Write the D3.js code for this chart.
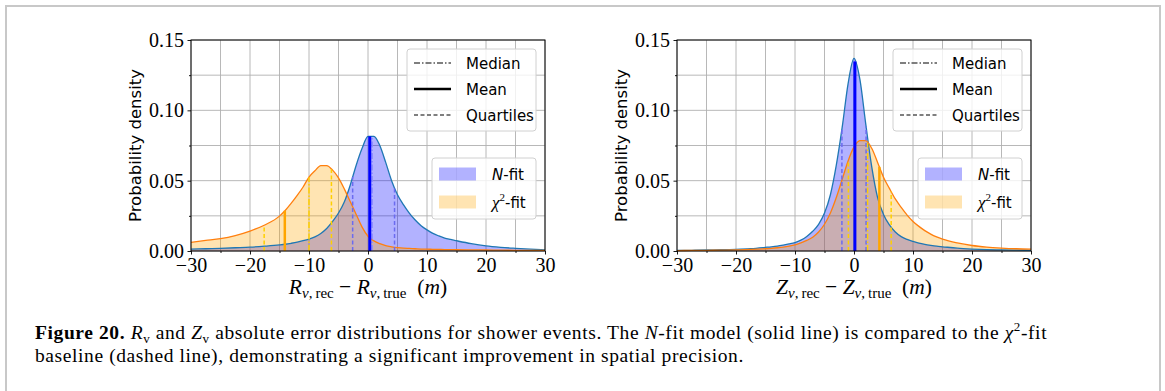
<!DOCTYPE html>
<html>
<head>
<meta charset="utf-8">
<script src="https://cdn.jsdelivr.net/npm/d3@7"></script>
<style>
  body { margin: 0; background: #fff; }
  svg { display: block; }
  .tick text { font-family: "Liberation Serif", serif; font-size: 20px; fill: #000; }
  .sans { font-family: "DejaVu Sans", sans-serif; }
  .serif { font-family: "Liberation Serif", serif; }
</style>
</head>
<body>
<svg id="fig" width="1165" height="391"></svg>
<script>
// x sample points (m), shared by all four curves
var xs = [-30, -27.5, -25, -22.5, -20, -17.5,
  -15, -14, -13, -12, -11, -10, -9, -8, -7, -6, -5, -4, -3, -2, -1,
  0, 1, 2, 3, 4, 5, 6, 7, 8, 9, 10, 11, 12, 13, 14, 15,
  17.5, 20, 22.5, 25, 27.5, 30];

// R_v panel densities
var rNfit = [0.0013, 0.0016, 0.0019, 0.0023, 0.0027, 0.0034,
  0.0043, 0.0048, 0.0055, 0.0063, 0.0073, 0.0085, 0.0101, 0.0125, 0.016, 0.021, 0.027, 0.035, 0.047, 0.061, 0.073,
  0.0815, 0.0815, 0.075, 0.063, 0.050, 0.040, 0.033, 0.027, 0.022, 0.018, 0.015, 0.0125, 0.0107, 0.0092, 0.0082, 0.0073,
  0.0052, 0.0036, 0.0026, 0.0019, 0.0013, 0.0008];
var rChi2 = [0.0062, 0.0075, 0.0088, 0.011, 0.0142, 0.0185,
  0.0248, 0.029, 0.034, 0.0395, 0.0455, 0.0525, 0.057, 0.0607, 0.0607, 0.0575, 0.052, 0.044, 0.035, 0.026, 0.017,
  0.0105, 0.0072, 0.0052, 0.0038, 0.003, 0.0024, 0.002, 0.0018, 0.0016, 0.0014, 0.0013, 0.0012, 0.0011, 0.001, 0.001, 0.0009,
  0.0008, 0.0007, 0.0006, 0.0005, 0.0004, 0.0004];

// Z_v panel densities
var zNfit = [0.0004, 0.0005, 0.0007, 0.0009, 0.0012, 0.0017,
  0.0026, 0.003, 0.0035, 0.0042, 0.005, 0.006, 0.0077, 0.0103, 0.014, 0.019, 0.027, 0.040, 0.061, 0.088, 0.119,
  0.137, 0.122, 0.090, 0.060, 0.038, 0.026, 0.0185, 0.0135, 0.0102, 0.0082, 0.0068, 0.0056, 0.0047, 0.004, 0.0034, 0.003,
  0.002, 0.0014, 0.001, 0.0008, 0.0006, 0.0005];
var zChi2 = [0.0003, 0.0004, 0.0005, 0.0006, 0.0008, 0.0011,
  0.0016, 0.0019, 0.0023, 0.0028, 0.0035, 0.0044, 0.0057, 0.0075, 0.0098, 0.0135, 0.019, 0.027, 0.038, 0.051, 0.064,
  0.074, 0.0785, 0.0785, 0.073, 0.063, 0.0525, 0.0445, 0.037, 0.031, 0.0255, 0.021, 0.0175, 0.0145, 0.012, 0.01, 0.0084,
  0.0057, 0.0039, 0.0028, 0.0021, 0.0016, 0.0013];

// summary statistics: mean, median, first quartile, third quartile
var rNfitStats = [0.3, 0.7, -2.6, 4.5];
var rChi2Stats = [-14.1, -10.0, -17.6, -6.2];
var zNfitStats = [0.15, 0.1, -2.05, 2.05];
var zChi2Stats = [4.3, 2.3, -0.95, 6.3];

var xMajorTicks = [-30, -20, -10, 0, 10, 20, 30];
var xMinorTicks = [-25, -15, -5, 5, 15, 25];
var yMajorTicks = [0, 0.05, 0.10, 0.15];
var yMinorTicks = [0.025, 0.075, 0.125];
var lineLegendLabels = ["Median", "Mean", "Quartiles"];

var svg = d3.select("#fig");
var plotTop = 40, plotBottom = 251;

// outer frame
svg.append("rect").attr("x", 6).attr("y", 6).attr("width", 1154).attr("height", 420)
  .attr("fill", "none").attr("stroke", "#c8c8c8").attr("stroke-width", 2);

function valueAt(arr, xv) {
  var i = d3.bisectLeft(xs, xv);
  if (i <= 0) return arr[0];
  if (i >= xs.length) return arr[arr.length - 1];
  var t = (xv - xs[i - 1]) / (xs[i] - xs[i - 1]);
  return arr[i - 1] + t * (arr[i] - arr[i - 1]);
}

function fmtX(d) { return d < 0 ? "\u2212" + Math.abs(d) : String(d); }

function drawPanel(p) {
  var x = d3.scaleLinear().domain([-30, 30]).range([p.left, p.right]);
  var y = d3.scaleLinear().domain([0, 0.15]).range([plotBottom, plotTop]);
  var g = svg.append("g");

  // grid
  g.selectAll("line.vg").data(xMajorTicks.concat(xMinorTicks)).enter().append("line")
    .attr("class", "vg")
    .attr("x1", function(d) { return x(d); }).attr("x2", function(d) { return x(d); })
    .attr("y1", plotTop).attr("y2", plotBottom)
    .attr("stroke", "#b0b0b0").attr("stroke-width", 0.9);
  g.selectAll("line.hg").data(yMajorTicks.concat(yMinorTicks)).enter().append("line")
    .attr("class", "hg")
    .attr("x1", p.left).attr("x2", p.right)
    .attr("y1", function(d) { return y(d); }).attr("y2", function(d) { return y(d); })
    .attr("stroke", "#b0b0b0").attr("stroke-width", 0.9);

  var area = d3.area()
    .x(function(d, i) { return x(xs[i]); })
    .y0(y(0))
    .y1(function(d) { return y(d); })
    .curve(d3.curveMonotoneX);
  var line = d3.line()
    .x(function(d, i) { return x(xs[i]); })
    .y(function(d) { return y(d); })
    .curve(d3.curveMonotoneX);

  g.append("path").datum(p.nfit).attr("d", area).attr("fill", "rgba(0,0,255,0.3)");
  g.append("path").datum(p.chi2).attr("d", area).attr("fill", "rgba(255,165,0,0.3)");
  g.append("path").datum(p.nfit).attr("d", line).attr("fill", "none").attr("stroke", "#1f77b4").attr("stroke-width", 1.3);
  g.append("path").datum(p.chi2).attr("d", line).attr("fill", "none").attr("stroke", "#ff7f0e").attr("stroke-width", 1.3);

  // stat lines
  function statLines(stats, arr, c) {
    var specs = [
      {v: stats[1], color: c.median, w: 1.5, dash: "6,2,1.5,2"},
      {v: stats[2], color: c.quart, w: 1.5, dash: "4,2.5"},
      {v: stats[3], color: c.quart, w: 1.5, dash: "4,2.5"},
      {v: stats[0], color: c.mean, w: c.meanW, dash: null}
    ];
    specs.forEach(function(s) {
      g.append("line")
        .attr("x1", x(s.v)).attr("x2", x(s.v))
        .attr("y1", y(0)).attr("y2", y(valueAt(arr, s.v)))
        .attr("stroke", s.color).attr("stroke-width", s.w)
        .attr("stroke-dasharray", s.dash);
    });
  }
  statLines(p.nStats, p.nfit, {median: "#8c8cff", quart: "#6b6bf0", mean: "#0000ff", meanW: 3});
  statLines(p.cStats, p.chi2, {median: "#ffd000", quart: "#ffd000", mean: "#ffa500", meanW: 2.5});

  // axes
  var xAxis = d3.axisBottom(x).tickValues(xMajorTicks).tickSize(3.5).tickSizeOuter(0).tickPadding(3.5).tickFormat(fmtX);
  var xMinor = d3.axisBottom(x).tickValues(xMinorTicks).tickSize(2).tickSizeOuter(0).tickFormat("");
  var yAxis = d3.axisLeft(y).tickValues(yMajorTicks).tickSize(3.5).tickSizeOuter(0).tickPadding(3.5).tickFormat(d3.format(".2f"));
  var yMinor = d3.axisLeft(y).tickValues(yMinorTicks).tickSize(2).tickSizeOuter(0).tickFormat("");
  [[xAxis, "translate(0," + plotBottom + ")"], [xMinor, "translate(0," + plotBottom + ")"],
   [yAxis, "translate(" + p.left + ",0)"], [yMinor, "translate(" + p.left + ",0)"]].forEach(function(a) {
    var ag = g.append("g").attr("transform", a[1]).call(a[0]);
    ag.select(".domain").remove();
    ag.selectAll(".tick line").attr("stroke", "#000").attr("stroke-width", 0.9);
  });
  g.append("rect").attr("x", p.left).attr("y", plotTop)
    .attr("width", p.right - p.left).attr("height", plotBottom - plotTop)
    .attr("fill", "none").attr("stroke", "#000").attr("stroke-width", 1);

  // y label
  g.append("text").attr("class", "sans")
    .attr("transform", "translate(" + (p.left - 50) + "," + ((plotTop + plotBottom) / 2) + ") rotate(-90)")
    .attr("text-anchor", "middle").attr("font-size", 16.5)
    .text("Probability density");

  // x label
  var xl = g.append("text").attr("class", "serif")
    .attr("x", (p.left + p.right) / 2).attr("y", 294)
    .attr("text-anchor", "middle").attr("font-size", 21.5);
  function sym(sub) {
    xl.append("tspan").attr("font-style", "italic").text(p.sym);
    xl.append("tspan").attr("font-size", 15).attr("dy", 4).attr("font-style", "italic").text("v");
    xl.append("tspan").attr("font-size", 15).text(",\u2009" + sub);
  }
  sym("rec");
  xl.append("tspan").attr("dy", -4).text(" \u2212 ");
  sym("true");
  xl.append("tspan").attr("dy", -4).text("\u2002(");
  xl.append("tspan").attr("font-style", "italic").text("m");
  xl.append("tspan").text(")");

  // line-style legend
  var lx = p.right - 138, ly = 49;
  g.append("rect").attr("x", lx).attr("y", ly).attr("width", 129).attr("height", 82).attr("rx", 3)
    .attr("fill", "rgba(255,255,255,0.8)").attr("stroke", "#d0d0d0");
  var dashes = ["6,2,1.5,2", null, "4,2.5"];
  var widths = [1.2, 2.4, 1.2];
  lineLegendLabels.forEach(function(lab, i) {
    var ry = ly + 14 + i * 26;
    g.append("line").attr("x1", lx + 7).attr("x2", lx + 44).attr("y1", ry).attr("y2", ry)
      .attr("stroke", "#000").attr("stroke-width", widths[i]).attr("stroke-dasharray", dashes[i]);
    g.append("text").attr("class", "sans").attr("x", lx + 59).attr("y", ry + 5.5)
      .attr("font-size", 15).text(lab);
  });

  // fill legend
  var fx = p.right - 113, fy = 158;
  g.append("rect").attr("x", fx).attr("y", fy).attr("width", 104).attr("height", 61).attr("rx", 3)
    .attr("fill", "rgba(255,255,255,0.8)").attr("stroke", "#d0d0d0");
  g.append("rect").attr("x", fx + 7).attr("y", fy + 9.5).attr("width", 37).attr("height", 13)
    .attr("fill", "rgba(0,0,255,0.3)");
  g.append("rect").attr("x", fx + 7).attr("y", fy + 37.5).attr("width", 37).attr("height", 13)
    .attr("fill", "rgba(255,165,0,0.3)");
  var t1 = g.append("text").attr("class", "sans").attr("x", fx + 60).attr("y", fy + 21.5).attr("font-size", 15);
  t1.append("tspan").attr("font-style", "italic").text("N");
  t1.append("tspan").text("-fit");
  var t2 = g.append("text").attr("class", "sans").attr("x", fx + 60).attr("y", fy + 49.5).attr("font-size", 15);
  t2.append("tspan").attr("class", "serif").attr("font-style", "italic").attr("font-size", 17).text("\u03c7");
  t2.append("tspan").attr("class", "serif").attr("font-size", 11).attr("dy", -7).text("2");
  t2.append("tspan").attr("dy", 7).text("-fit");
}

drawPanel({left: 191, right: 545, nfit: rNfit, chi2: rChi2, nStats: rNfitStats, cStats: rChi2Stats, sym: "R"});
drawPanel({left: 677, right: 1031, nfit: zNfit, chi2: zChi2, nStats: zNfitStats, cStats: zChi2Stats, sym: "Z"});

// caption
var capSize = 19.5, capSub = 13;
var cap1 = svg.append("text").attr("class", "serif").attr("x", 35).attr("y", 339)
  .attr("font-size", capSize).attr("letter-spacing", 0.6);
cap1.append("tspan").attr("font-weight", "bold").text("Figure 20.");
cap1.append("tspan").text(" ");
cap1.append("tspan").attr("font-style", "italic").text("R");
cap1.append("tspan").attr("font-size", capSub).attr("dy", 4).text("v");
cap1.append("tspan").attr("dy", -4).text(" and ");
cap1.append("tspan").attr("font-style", "italic").text("Z");
cap1.append("tspan").attr("font-size", capSub).attr("dy", 4).text("v");
cap1.append("tspan").attr("dy", -4).text(" absolute error distributions for shower events. The ");
cap1.append("tspan").attr("font-style", "italic").text("N");
cap1.append("tspan").text("-fit model (solid line) is compared to the ");
cap1.append("tspan").attr("font-style", "italic").text("\u03c7");
cap1.append("tspan").attr("font-size", capSub).attr("dy", -8).text("2");
cap1.append("tspan").attr("dy", 8).text("-fit");
svg.append("text").attr("class", "serif").attr("x", 35).attr("y", 362)
  .attr("font-size", capSize).attr("letter-spacing", 0.6)
  .text("baseline (dashed line), demonstrating a significant improvement in spatial precision.");
</script>
</body>
</html>
